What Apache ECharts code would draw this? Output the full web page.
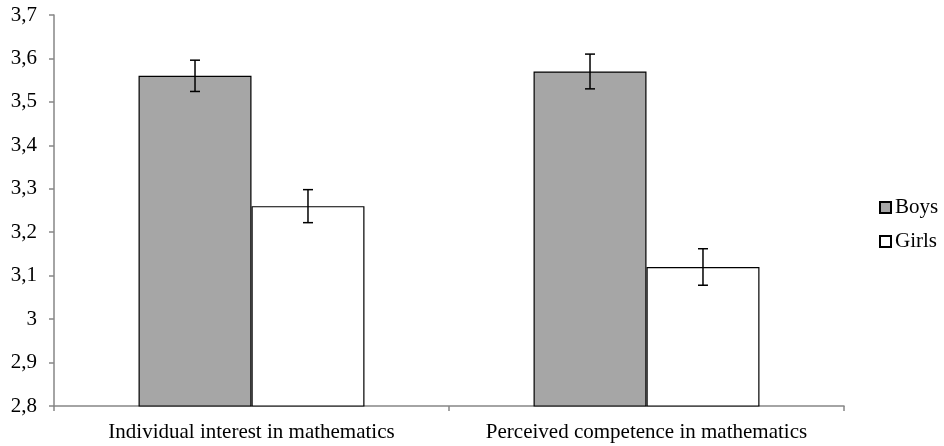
<!DOCTYPE html>
<html>
<head>
<meta charset="utf-8">
<script src="https://cdn.jsdelivr.net/npm/echarts@6/dist/echarts.min.js"></script>
<style>html,body{margin:0;padding:0;background:#fff;}#c{width:944px;height:446px;}</style>
</head>
<body>
<div id="c"></div>
<script>
const categories = ['Individual interest in mathematics', 'Perceived competence in mathematics'];
const seriesNames = ['Boys', 'Girls'];
const boys = [3.56, 3.57];
const girls = [3.26, 3.12];
const boysErr = [0.036, 0.040];
const girlsErr = [0.038, 0.042];
const yMin = 2.8, yMax = 3.7, yInterval = 0.1;

const catGap = 0.428;
const FONT = '"Liberation Serif", "Times New Roman", serif';

function errData(vals, errs) {
  return vals.map((v, i) => [i, v - errs[i], v + errs[i]]);
}
function makeErr(idx) {
  return function (params, api) {
    const cat = api.value(0);
    const lo = api.value(1), hi = api.value(2);
    const bw = api.size([1, 0])[0];
    const barW = bw * (1 - catGap) / 2;
    const off = idx === 0 ? -barW / 2 : barW / 2;
    const pt = api.coord([cat, hi]);
    const pb = api.coord([cat, lo]);
    const x = pt[0] + off;
    const cap = 5;
    const style = { stroke: '#000', lineWidth: 1.5 };
    return {
      type: 'group',
      children: [
        { type: 'line', shape: { x1: x, y1: pt[1], x2: x, y2: pb[1] }, style },
        { type: 'line', shape: { x1: x - cap, y1: pt[1], x2: x + cap, y2: pt[1] }, style },
        { type: 'line', shape: { x1: x - cap, y1: pb[1], x2: x + cap, y2: pb[1] }, style }
      ]
    };
  };
}

const chart = echarts.init(document.getElementById('c'), null, { renderer: 'canvas' });
chart.setOption({
  animation: false,
  textStyle: { fontFamily: FONT },
  grid: { left: 54, right: 100, top: 15, bottom: 40, containLabel: false },
  legend: {
    data: seriesNames,
    orient: 'vertical',
    left: 879,
    top: 197,
    padding: 0,
    itemWidth: 11,
    itemHeight: 11,
    itemGap: 13,
    icon: 'rect',
    textStyle: { fontFamily: FONT, fontSize: 21, color: '#000', padding: [0, 0, 0, -1] }
  },
  xAxis: {
    type: 'category',
    data: categories,
    axisLine: { lineStyle: { color: '#868686', width: 1.5 } },
    axisTick: { show: true, length: 5, lineStyle: { color: '#868686', width: 1.5 } },
    axisLabel: { color: '#000', fontFamily: FONT, fontSize: 21, margin: 16, interval: 0 }
  },
  yAxis: {
    type: 'value',
    min: yMin,
    max: yMax,
    interval: yInterval,
    axisLine: { show: true, lineStyle: { color: '#868686', width: 1.5 } },
    axisTick: { show: true, length: 5, lineStyle: { color: '#868686', width: 1.5 } },
    splitLine: { show: false },
    axisLabel: {
      color: '#000', fontFamily: FONT, fontSize: 21, margin: 17,
      formatter: v => String(Math.round(v * 10) / 10).replace('.', ',')
    }
  },
  series: [
    {
      name: 'Boys', type: 'bar', data: boys,
      barGap: '0%', barCategoryGap: (catGap * 100) + '%',
      itemStyle: { color: '#a6a6a6', borderColor: '#000', borderWidth: 1.2 }
    },
    {
      name: 'Girls', type: 'bar', data: girls,
      barGap: '0%', barCategoryGap: (catGap * 100) + '%',
      itemStyle: { color: '#ffffff', borderColor: '#000', borderWidth: 1.2 }
    },
    {
      name: 'BoysErr', type: 'custom', renderItem: makeErr(0),
      data: errData(boys, boysErr), z: 10, encode: { x: 0, y: [1, 2] }
    },
    {
      name: 'GirlsErr', type: 'custom', renderItem: makeErr(1),
      data: errData(girls, girlsErr), z: 10, encode: { x: 0, y: [1, 2] }
    }
  ]
});
</script>
</body>
</html>
